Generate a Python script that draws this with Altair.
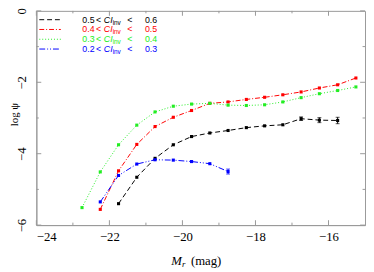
import altair as alt
import pandas as pd

# ---------------- data ----------------
GREEN_X = [-22.75, -22.25, -21.75, -21.25, -20.75, -20.25, -19.75, -19.25,
           -18.75, -18.25, -17.75, -17.25, -16.75, -16.25, -15.75, -15.25]
GREEN_Y = [-5.51, -4.51, -3.75, -3.20, -2.83, -2.67, -2.61, -2.59,
           -2.64, -2.65, -2.63, -2.55, -2.43, -2.32, -2.23, -2.13]

RED_X = [-22.25, -21.75, -21.25, -20.75, -20.25, -19.75, -19.25, -18.75,
         -18.25, -17.75, -17.25, -16.75, -16.25, -15.75, -15.25]
RED_Y = [-5.56, -4.48, -3.74, -3.24, -2.98, -2.79, -2.59, -2.55,
         -2.48, -2.42, -2.35, -2.27, -2.16, -2.07, -1.88]

BLACK_X = [-21.75, -21.25, -20.75, -20.25, -19.75, -19.25, -18.75,
           -18.25, -17.75, -17.25, -16.75, -16.25, -15.75]
BLACK_Y = [-5.40, -4.66, -4.13, -3.75, -3.52, -3.42, -3.35,
           -3.27, -3.22, -3.19, -3.02, -3.06, -3.07]
BLACK_ERR = [0, 0, 0, 0, 0, 0, 0, 0, 0, 0, 0.05, 0.07, 0.09]

BLUE_X = [-22.25, -21.75, -21.25, -20.75, -20.25, -19.75, -19.25, -18.75]
BLUE_Y = [-5.35, -4.61, -4.29, -4.17, -4.18, -4.22, -4.28, -4.50]
BLUE_ERR = [0, 0, 0, 0, 0, 0, 0, 0.07]

LEGEND_LO = ["0.5", "0.4", "0.3", "0.2"]
LEGEND_HI = ["0.6", "0.5", "0.4", "0.3"]

X_LABELS = [-24, -22, -20, -18, -16]
X_MINOR = [-23, -21, -19, -17]
Y_LABELS = [-6, -4, -2, 0]
Y_MINOR = [-5, -3, -1]

# ---------------- styles ----------------
COLORS = ["#000000", "#ff0000", "#22ee22", "#0000ff"]
DASHES = [[5, 3], [5, 2, 1, 2], [1, 2], [6, 2, 1, 2, 1, 2]]
FRAME = "#999999"
SERIF = "Liberation Serif"
SANS = "Liberation Sans"

W, H = 336, 219

xs = alt.Scale(domain=[-24, -15], nice=False, zero=False)
ys = alt.Scale(domain=[-6, 0], nice=False, zero=False)
xaxis = alt.Axis(values=X_LABELS, ticks=False, grid=False, domainColor=FRAME,
                 labelFont=SERIF, labelFontSize=13, labelColor="black",
                 labelPadding=6, title=None, format="d")
yaxis = alt.Axis(values=Y_LABELS, ticks=False, grid=False, domainColor=FRAME,
                 labelFont=SERIF, labelFontSize=13, labelColor="black",
                 labelAngle=270, labelAlign="center", labelBaseline="bottom",
                 labelPadding=8, title=None, format="d")
X = alt.X("x:Q", scale=xs, axis=xaxis)
Y = alt.Y("y:Q", scale=ys, axis=yaxis)

series = [
    (BLACK_X, BLACK_Y, BLACK_ERR),
    (RED_X, RED_Y, None),
    (GREEN_X, GREEN_Y, None),
    (BLUE_X, BLUE_Y, BLUE_ERR),
]

layers = []

# ticks (inside, all four sides)
tmaj_x = pd.DataFrame({"x": X_LABELS})
tmin_x = pd.DataFrame({"x": X_MINOR})
tmaj_y = pd.DataFrame({"y": Y_LABELS})
tmin_y = pd.DataFrame({"y": Y_MINOR})
for df, ln in ((tmaj_x, 5), (tmin_x, 2.5)):
    layers.append(alt.Chart(df).mark_rule(color=FRAME, strokeWidth=1).encode(
        x=X, y=alt.value(H), y2=alt.value(H - ln)))
    layers.append(alt.Chart(df).mark_rule(color=FRAME, strokeWidth=1).encode(
        x=X, y=alt.value(0), y2=alt.value(ln)))
for df, ln in ((tmaj_y, 5), (tmin_y, 2.5)):
    layers.append(alt.Chart(df).mark_rule(color=FRAME, strokeWidth=1).encode(
        y=Y, x=alt.value(0), x2=alt.value(ln)))
    layers.append(alt.Chart(df).mark_rule(color=FRAME, strokeWidth=1).encode(
        y=Y, x=alt.value(W), x2=alt.value(W - ln)))

# data series
for i, (sx, sy, se) in enumerate(series):
    df = pd.DataFrame({"x": sx, "y": sy})
    col = COLORS[i]
    layers.append(alt.Chart(df).mark_line(color=col, strokeWidth=1,
                                          strokeDash=DASHES[i]).encode(x=X, y=Y, order="x:Q"))
    layers.append(alt.Chart(df).mark_square(color=col, size=10, opacity=1).encode(x=X, y=Y))
    if se is not None:
        df["err"] = se
        de = df[df["err"] > 0].copy()
        de["lo"] = de["y"] - de["err"]
        de["hi"] = de["y"] + de["err"]
        layers.append(alt.Chart(de).mark_rule(color=col, strokeWidth=1).encode(
            x=X, y=alt.Y("lo:Q", scale=ys, axis=yaxis), y2="hi:Q"))
        for c in ("lo", "hi"):
            layers.append(alt.Chart(de).mark_tick(color=col, orient="horizontal",
                                                  size=4, thickness=1).encode(
                x=X, y=alt.Y(f"{c}:Q", scale=ys, axis=yaxis)))

    # legend row
    py = 9 + 10 * i
    layers.append(alt.Chart(df.head(1)).mark_rule(color=col, strokeWidth=1,
                                                   strokeDash=DASHES[i]).encode(
        x=alt.value(3), x2=alt.value(25), y=alt.value(py)))
    txt = dict(color=col, font=SANS, fontSize=9, fontWeight="normal",
               baseline="middle", align="left")
    pieces = [(47, LEGEND_LO[i], {}), (61, "<", {}),
              (69, "CI", {"fontStyle": "italic"}),
              (78, "inv", {"fontSize": 6.5, "dy": 3}),
              (93, "<", {}), (111, LEGEND_HI[i], {})]
    for px, s, extra in pieces:
        opts = dict(txt)
        opts.update(extra)
        layers.append(alt.Chart(df.head(1)).mark_text(text=s, **opts).encode(
            x=alt.value(px), y=alt.value(py)))

# axis titles
one = pd.DataFrame({"x": [0]})
layers.append(alt.Chart(one).mark_text(text="M", font=SERIF, fontSize=13, fontStyle="italic",
                                       align="left", baseline="middle").encode(
    x=alt.value(138), y=alt.value(256)))
layers.append(alt.Chart(one).mark_text(text="r", font=SERIF, fontSize=9, fontStyle="italic",
                                       align="left", baseline="middle").encode(
    x=alt.value(149), y=alt.value(259)))
layers.append(alt.Chart(one).mark_text(text="(mag)", font=SERIF, fontSize=13,
                                       align="left", baseline="middle").encode(
    x=alt.value(158), y=alt.value(256)))
layers.append(alt.Chart(one).mark_text(text="log ψ", font=SERIF, fontSize=11, angle=270,
                                       align="center", baseline="middle").encode(
    x=alt.value(-22), y=alt.value(106)))

chart = alt.layer(*layers).properties(
    width=W, height=H,
    autosize=alt.AutoSizeParams(type="none"),
    padding={"left": 29, "top": 0, "right": 1, "bottom": 45},
).configure_view(stroke=FRAME, strokeWidth=1)

chart.save("out.html", embed_options={"renderer": "svg", "actions": False})
